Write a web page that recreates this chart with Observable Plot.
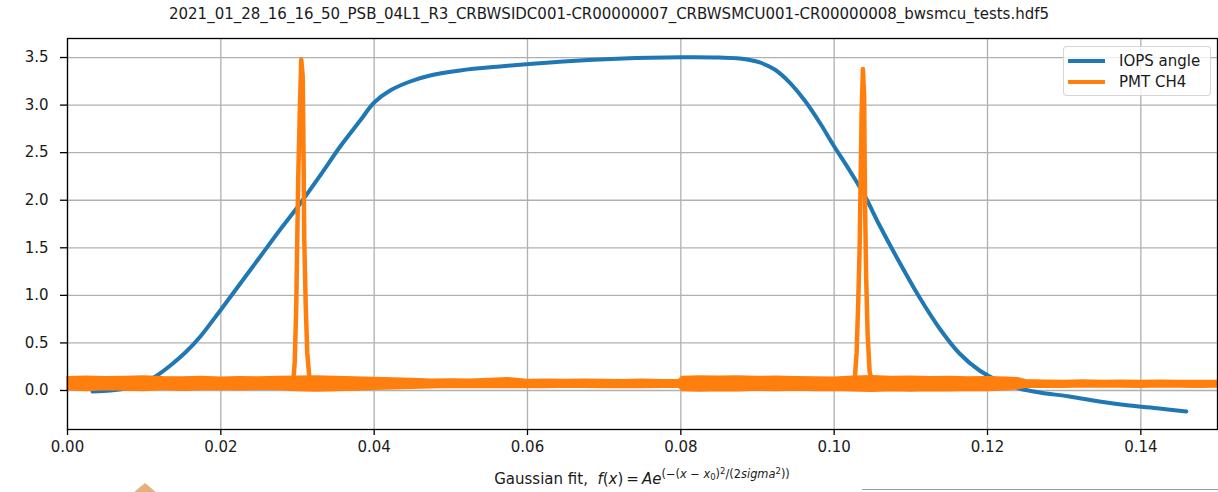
<!DOCTYPE html>
<html>
<head>
<meta charset="utf-8">
<script src="https://cdn.jsdelivr.net/npm/d3@7"></script>
<script src="https://cdn.jsdelivr.net/npm/@observablehq/plot@0.6"></script>
<style>
  body { margin: 0; background: #fff; }
  #fig { position: relative; width: 1218px; height: 492px; overflow: hidden; font-family: "DejaVu Sans", sans-serif; color: #1a1a1a; }
  #fig svg { position: absolute; left: 0; top: 0; }
  #title { position: absolute; left: 0; top: 4px; width: 1218px; text-align: center; font-size: 15px; line-height: 20px; white-space: nowrap; }
  #xlabel { position: absolute; left: 67px; width: 1150px; top: 469px; text-align: center; font-size: 15px; line-height: 20px; white-space: nowrap; }
  #xlabel .m { font-style: italic; }
  #xlabel .eq { margin: 0 3px; }
  #xlabel .sup { font-size: 76%; position: relative; top: -0.55em; }
  #xlabel .sup .sup { font-size: 75%; top: -0.45em; }
  #xlabel .sub { font-size: 75%; position: relative; top: 0.25em; }
  #legend { position: absolute; left: 1063px; top: 46px; width: 148px; height: 50px; box-sizing: border-box;
            border: 1px solid rgba(204,204,204,0.8); border-radius: 4px; background: rgba(255,255,255,0.8); }
  .entry { position: absolute; left: 4px; height: 20px; font-size: 15px; line-height: 20px; white-space: nowrap; }
  .entry .sw { position: absolute; left: 0; top: 8px; width: 37px; height: 4px; }
  .entry .tx { position: absolute; left: 51px; top: 0; }
  #mark1 { position: absolute; left: 133px; top: 483px; width: 0; height: 0;
           border-left: 12px solid transparent; border-right: 12px solid transparent; border-bottom: 10px solid #e6b07c; }
  #mark2 { position: absolute; left: 862px; top: 489px; width: 356px; height: 0; border-top: 1.5px solid #9a9a9a; }
</style>
</head>
<body>
<div id="fig">
  <div id="title"></div>
  <div id="xlabel">Gaussian fit,&nbsp; <span class="m">f</span>(<span class="m">x</span>)<span class="eq">=</span><span class="m">Ae</span><span class="sup">(−(<span class="m">x</span> − <span class="m">x</span><span class="sub">0</span>)<span class="sup">2</span>/(2<span class="m">sigma</span><span class="sup">2</span>))</span></div>
  <div id="legend">
    <div class="entry" style="top:4px"><div class="sw" style="background:#1f77b4"></div><div class="tx" id="lab0"></div></div>
    <div class="entry" style="top:25px"><div class="sw" style="background:#ff7f0e"></div><div class="tx" id="lab1"></div></div>
  </div>
  <div id="mark1"></div>
  <div id="mark2"></div>
</div>
<script>
// File name shown above the axes
const titleText = "2021_01_28_16_16_50_PSB_04L1_R3_CRBWSIDC001-CR00000007_CRBWSMCU001-CR00000008_bwsmcu_tests.hdf5";
const seriesNames = ["IOPS angle", "PMT CH4"];

// Axis ticks
const xTicks = [0.00, 0.02, 0.04, 0.06, 0.08, 0.10, 0.12, 0.14];
const yTicks = [0.0, 0.5, 1.0, 1.5, 2.0, 2.5, 3.0, 3.5];

// IOPS angle trace (time [s], angle [rad])
const opsX = [0.00326, 0.00560, 0.00756, 0.00951, 0.01147, 0.01342, 0.01537, 0.01733, 0.01993, 0.02254,
              0.02515, 0.02775, 0.03036, 0.03296, 0.03557, 0.03818, 0.04000, 0.04208, 0.04469, 0.04730,
              0.05121, 0.05642, 0.06293, 0.06945, 0.07596, 0.08000, 0.08500, 0.08769, 0.09029, 0.09225,
              0.09420, 0.09616, 0.09811, 0.09993, 0.10202, 0.10397, 0.10593, 0.10853, 0.11114, 0.11375,
              0.11635, 0.11896, 0.12156, 0.12417, 0.12678, 0.13068, 0.13459, 0.13850, 0.14241, 0.14593];
const opsY = [-0.011, 0.000, 0.021, 0.063, 0.147, 0.263, 0.399, 0.568, 0.841, 1.125,
              1.409, 1.692, 1.966, 2.260, 2.565, 2.838, 3.027, 3.153, 3.248, 3.311,
              3.364, 3.406, 3.448, 3.479, 3.497, 3.502, 3.500, 3.490, 3.448, 3.374,
              3.237, 3.048, 2.817, 2.575, 2.312, 2.049, 1.734, 1.345, 0.977, 0.652,
              0.389, 0.210, 0.095, 0.021, -0.021, -0.063, -0.116, -0.158, -0.189, -0.221];

// PMT CH4 baseline noise envelope (time [s], lower / upper signal)
const pmtX = [0.0000, 0.0025, 0.0050, 0.0075, 0.0100, 0.0125, 0.0150, 0.0175, 0.0200, 0.0225,
              0.0250, 0.0275, 0.0300, 0.0325, 0.0350, 0.0375, 0.0400, 0.0425, 0.0450, 0.0475,
              0.0500, 0.0525, 0.0550, 0.0575, 0.0600, 0.0625, 0.0650, 0.0675, 0.0700, 0.0725,
              0.0750, 0.0775, 0.0798, 0.0802, 0.0825, 0.0850, 0.0875, 0.0900, 0.0925, 0.0950,
              0.0975, 0.1000, 0.1025, 0.1050, 0.1075, 0.1100, 0.1125, 0.1150, 0.1175, 0.1200,
              0.1225, 0.1240, 0.1250, 0.1275, 0.1300, 0.1325, 0.1350, 0.1375, 0.1400, 0.1425,
              0.1450, 0.1475, 0.1500];
const pmtHi = [0.140, 0.145, 0.138, 0.143, 0.147, 0.139, 0.136, 0.141, 0.134, 0.140,
               0.137, 0.142, 0.145, 0.147, 0.141, 0.136, 0.132, 0.126, 0.120, 0.114,
               0.116, 0.112, 0.120, 0.128, 0.111, 0.114, 0.110, 0.113, 0.111, 0.109,
               0.112, 0.108, 0.110, 0.143, 0.147, 0.145, 0.148, 0.141, 0.144, 0.140,
               0.137, 0.135, 0.145, 0.150, 0.143, 0.145, 0.139, 0.142, 0.136, 0.140,
               0.134, 0.128, 0.108, 0.103, 0.101, 0.105, 0.099, 0.103, 0.100, 0.102,
               0.099, 0.101, 0.100];
const pmtLo = [0.004, -0.004, 0.006, 0.000, -0.006, 0.007, -0.002, 0.004, 0.008, 0.002,
               0.010, 0.005, -0.006, -0.011, -0.004, 0.001, 0.008, 0.014, 0.019, 0.024,
               0.028, 0.026, 0.030, 0.025, 0.029, 0.027, 0.031, 0.028, 0.026, 0.030,
               0.027, 0.029, 0.028, -0.006, -0.011, -0.004, -0.008, -0.001, -0.006, 0.000,
               -0.004, -0.002, -0.008, -0.014, -0.006, -0.010, -0.004, -0.008, -0.002, -0.006,
               0.004, 0.012, 0.028, 0.032, 0.030, 0.033, 0.031, 0.032, 0.030, 0.033,
               0.031, 0.030, 0.032];

// PMT CH4 beam crossings: first and second wire passage
const peak1X = [0.02920, 0.02945, 0.02964, 0.02984, 0.02997, 0.03010, 0.03029, 0.03049,
                0.03068, 0.03075, 0.03081, 0.03088, 0.03107, 0.03127, 0.03153, 0.03179, 0.03200];
const peak1Y = [0.07, 0.10, 0.30, 0.90, 1.60, 2.25, 2.90, 3.48,
                3.30, 2.80, 2.30, 1.60, 0.90, 0.40, 0.15, 0.08, 0.07];
const peak2X = [0.10245, 0.10267, 0.10293, 0.10313, 0.10332, 0.10345, 0.10358, 0.10375,
                0.10391, 0.10397, 0.10404, 0.10417, 0.10436, 0.10462, 0.10489, 0.10510];
const peak2Y = [0.07, 0.10, 0.40, 0.90, 1.50, 2.20, 2.90, 3.38,
                3.10, 2.50, 1.90, 1.20, 0.60, 0.20, 0.10, 0.07];

const blue = "#1f77b4", orange = "#ff7f0e";

const ops = opsX.map((x, i) => ({x, y: opsY[i]}));
const pmt = pmtX.map((x, i) => ({x, lo: pmtLo[i], hi: pmtHi[i]}));
const peaks = [
  ...peak1X.map((x, i) => ({x, y: peak1Y[i], k: "a"})),
  ...peak2X.map((x, i) => ({x, y: peak2Y[i], k: "b"}))
];

document.getElementById("title").textContent = titleText;
document.getElementById("lab0").textContent = seriesNames[0];
document.getElementById("lab1").textContent = seriesNames[1];

const chart = Plot.plot({
  width: 1218,
  height: 492,
  marginLeft: 67,
  marginRight: 1,
  marginTop: 38,
  marginBottom: 63,
  style: {fontFamily: "DejaVu Sans", fontSize: "15px", color: "#1a1a1a", background: "transparent"},
  x: {domain: [0, 0.15]},
  y: {domain: [-0.41, 3.70]},
  marks: [
    Plot.gridX(xTicks, {stroke: "#b0b0b0", strokeOpacity: 1, strokeWidth: 1.3}),
    Plot.gridY(yTicks, {stroke: "#b0b0b0", strokeOpacity: 1, strokeWidth: 1.3}),
    Plot.line(ops, {x: "x", y: "y", stroke: blue, strokeWidth: 4, curve: "catmull-rom"}),
    Plot.areaY(pmt, {x: "x", y1: "lo", y2: "hi", fill: orange, stroke: orange, strokeWidth: 1.5, strokeLinejoin: "round"}),
    Plot.line(peaks, {x: "x", y: "y", z: "k", stroke: orange, strokeWidth: 4.5, strokeLinejoin: "round"}),
    Plot.frame({stroke: "#000", strokeWidth: 1.3}),
    Plot.axisX(xTicks, {tickSize: 6, tickPadding: 6, tickFormat: d3.format(".2f"), label: null, stroke: "#000", strokeWidth: 1.3}),
    Plot.axisY(yTicks, {tickSize: 7, tickPadding: 12, tickFormat: d3.format(".1f"), label: null, stroke: "#000", strokeWidth: 1.3})
  ]
});
document.getElementById("fig").insertBefore(chart, document.getElementById("title"));
</script>
</body>
</html>
